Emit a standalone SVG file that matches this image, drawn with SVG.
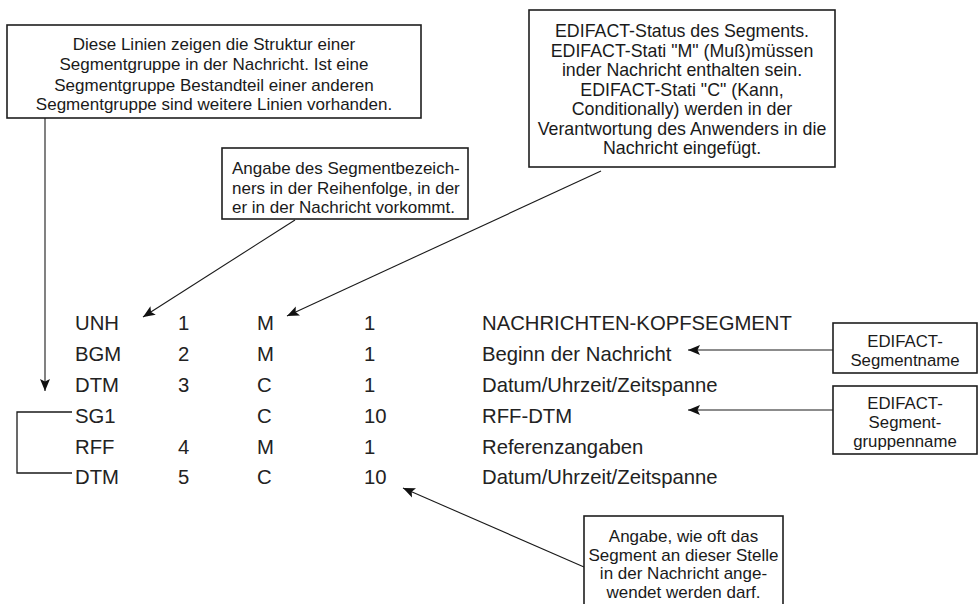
<svg xmlns="http://www.w3.org/2000/svg" width="979" height="604" viewBox="0 0 979 604">
<style>
  .box { fill: #ffffff; stroke: #1e1e1e; stroke-width: 1.6; }
  .t { font-family: "Liberation Sans", Arial, sans-serif; fill: #1a1a1a; }
  .note { font-size: 17px; }
  .tbl { font-size: 20.3px; fill: #222222; }
  .c { text-anchor: middle; }
  .conn { stroke: #1a1a1a; stroke-width: 1.1; fill: none; }
  .br { stroke: #1a1a1a; stroke-width: 1.3; fill: none; }
</style>
<defs>
  <marker id="ah" markerUnits="userSpaceOnUse" markerWidth="13" markerHeight="11" refX="12" refY="5.5" orient="auto">
    <path d="M0,0.5 L12,5.5 L0,10.5 L2.5,5.5 z" fill="#111111"/>
  </marker>
</defs>
<rect x="0" y="0" width="979" height="604" fill="#ffffff"/>

<g id="connectors">
  <line class="conn" x1="45" y1="118" x2="45" y2="391" marker-end="url(#ah)"/>
  <line class="conn" x1="295" y1="220" x2="143" y2="317" marker-end="url(#ah)"/>
  <line class="conn" x1="601" y1="171" x2="287" y2="316" marker-end="url(#ah)"/>
  <line class="conn" x1="833" y1="350" x2="688" y2="350" marker-end="url(#ah)"/>
  <line class="conn" x1="833" y1="410" x2="688" y2="410" marker-end="url(#ah)"/>
  <line class="conn" x1="584" y1="567" x2="403" y2="488" marker-end="url(#ah)"/>
  <polyline class="br" points="72,412 17,412 17,473 72,473"/>
</g>

<g id="note-structure">
  <rect class="box" x="7" y="25" width="414" height="93"/>
  <text class="t note c" x="214" y="50">Diese Linien zeigen die Struktur einer</text>
  <text class="t note c" x="214" y="70">Segmentgruppe in der Nachricht. Ist eine</text>
  <text class="t note c" x="214" y="90.5">Segmentgruppe Bestandteil einer anderen</text>
  <text class="t note c" x="214" y="110">Segmentgruppe sind weitere Linien vorhanden.</text>
</g>

<g id="note-status">
  <rect class="box" x="529" y="10" width="306" height="157"/>
  <text class="t note c" x="682" y="37" style="font-size:17.8px">EDIFACT-Status des Segments.</text>
  <text class="t note c" x="682" y="56.5" style="font-size:17.8px">EDIFACT-Stati "M" (Muß)müssen</text>
  <text class="t note c" x="682" y="76" style="font-size:17.8px">inder Nachricht enthalten sein.</text>
  <text class="t note c" x="682" y="95.5" style="font-size:17.8px">EDIFACT-Stati "C" (Kann,</text>
  <text class="t note c" x="682" y="115" style="font-size:17.8px">Conditionally) werden in der</text>
  <text class="t note c" x="682" y="134.5" style="font-size:17.8px">Verantwortung des Anwenders in die</text>
  <text class="t note c" x="682" y="154" style="font-size:17.8px">Nachricht eingefügt.</text>
</g>

<g id="note-bezeichner">
  <rect class="box" x="222" y="148" width="246" height="71"/>
  <text class="t note" x="232" y="174">Angabe des Segmentbezeich-</text>
  <text class="t note" x="232" y="193.5">ners in der Reihenfolge, in der</text>
  <text class="t note" x="232" y="213">er in der Nachricht vorkommt.</text>
</g>

<g id="note-segmentname">
  <rect class="box" x="833" y="323" width="144" height="50"/>
  <text class="t note c" x="905" y="347" style="font-size:16.8px">EDIFACT-</text>
  <text class="t note c" x="905" y="366" style="font-size:16.8px">Segmentname</text>
</g>

<g id="note-gruppenname">
  <rect class="box" x="833" y="386" width="144" height="68"/>
  <text class="t note c" x="905" y="409" style="font-size:16.8px">EDIFACT-</text>
  <text class="t note c" x="905" y="428" style="font-size:16.8px">Segment-</text>
  <text class="t note c" x="905" y="447" style="font-size:16.8px">gruppenname</text>
</g>

<g id="note-wieoft">
  <rect class="box" x="584" y="516" width="199" height="95"/>
  <text class="t note c" x="683.5" y="542">Angabe, wie oft das</text>
  <text class="t note c" x="683.5" y="560.5">Segment an dieser Stelle</text>
  <text class="t note c" x="683.5" y="579">in der Nachricht ange-</text>
  <text class="t note c" x="683.5" y="597.5">wendet werden darf.</text>
</g>

<g id="table">
  <g id="row-unh">
    <text class="t tbl" x="75" y="330">UNH</text>
    <text class="t tbl" x="178" y="330">1</text>
    <text class="t tbl" x="257" y="330">M</text>
    <text class="t tbl" x="364" y="330">1</text>
    <text class="t tbl" x="482" y="330">NACHRICHTEN-KOPFSEGMENT</text>
  </g>
  <g id="row-bgm">
    <text class="t tbl" x="75" y="361">BGM</text>
    <text class="t tbl" x="178" y="361">2</text>
    <text class="t tbl" x="257" y="361">M</text>
    <text class="t tbl" x="364" y="361">1</text>
    <text class="t tbl" x="482" y="361">Beginn der Nachricht</text>
  </g>
  <g id="row-dtm1">
    <text class="t tbl" x="75" y="392">DTM</text>
    <text class="t tbl" x="178" y="392">3</text>
    <text class="t tbl" x="257" y="392">C</text>
    <text class="t tbl" x="364" y="392">1</text>
    <text class="t tbl" x="482" y="392">Datum/Uhrzeit/Zeitspanne</text>
  </g>
  <g id="row-sg1">
    <text class="t tbl" x="75" y="423">SG1</text>
    <text class="t tbl" x="257" y="423">C</text>
    <text class="t tbl" x="364" y="423">10</text>
    <text class="t tbl" x="482" y="423">RFF-DTM</text>
  </g>
  <g id="row-rff">
    <text class="t tbl" x="75" y="453.5">RFF</text>
    <text class="t tbl" x="178" y="453.5">4</text>
    <text class="t tbl" x="257" y="453.5">M</text>
    <text class="t tbl" x="364" y="453.5">1</text>
    <text class="t tbl" x="482" y="453.5">Referenzangaben</text>
  </g>
  <g id="row-dtm2">
    <text class="t tbl" x="75" y="484">DTM</text>
    <text class="t tbl" x="178" y="484">5</text>
    <text class="t tbl" x="257" y="484">C</text>
    <text class="t tbl" x="364" y="484">10</text>
    <text class="t tbl" x="482" y="484">Datum/Uhrzeit/Zeitspanne</text>
  </g>
</g>
</svg>
